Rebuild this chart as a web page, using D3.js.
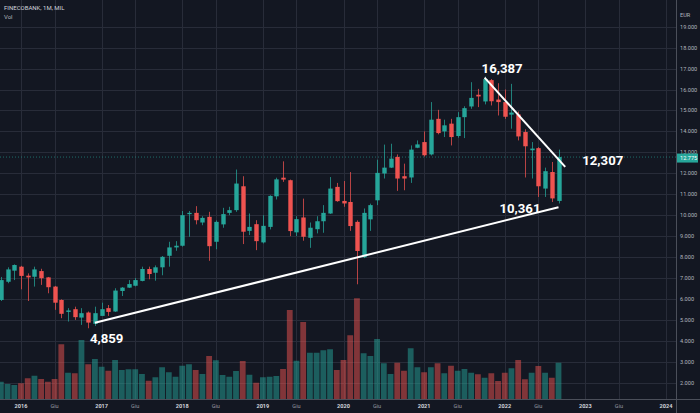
<!DOCTYPE html>
<html><head><meta charset="utf-8">
<script src="https://cdn.jsdelivr.net/npm/d3@7"></script>
<style>html,body{margin:0;padding:0;background:#131722;overflow:hidden}</style>
</head><body><svg id="c" width="700" height="413"></svg>
<script>
const months = ["2015-10","2015-11","2015-12",
"2016-01","2016-02","2016-03","2016-04","2016-05","2016-06","2016-07","2016-08","2016-09","2016-10","2016-11","2016-12",
"2017-01","2017-02","2017-03","2017-04","2017-05","2017-06","2017-07","2017-08","2017-09","2017-10","2017-11","2017-12",
"2018-01","2018-02","2018-03","2018-04","2018-05","2018-06","2018-07","2018-08","2018-09","2018-10","2018-11","2018-12",
"2019-01","2019-02","2019-03","2019-04","2019-05","2019-06","2019-07","2019-08","2019-09","2019-10","2019-11","2019-12",
"2020-01","2020-02","2020-03","2020-04","2020-05","2020-06","2020-07","2020-08","2020-09","2020-10","2020-11","2020-12",
"2021-01","2021-02","2021-03","2021-04","2021-05","2021-06","2021-07","2021-08","2021-09","2021-10","2021-11","2021-12",
"2022-01","2022-02","2022-03","2022-04","2022-05","2022-06","2022-07","2022-08","2022-09"];
const open  = [5.95,6.82,7.35,7.54,7.11,7.06,7.33,7.03,6.59,5.95,5.38,5.51,5.11,5.35,4.81,5.19,5.56,5.40,6.38,6.54,6.63,6.86,7.43,7.25,7.51,8.06,8.46,8.54,10.05,10.11,9.65,9.92,8.73,9.56,10.11,10.24,11.38,9.25,9.57,8.70,9.44,10.90,11.79,11.67,9.18,9.89,8.92,9.33,9.71,10.08,11.35,10.68,10.63,9.68,7.99,9.80,10.71,11.99,12.27,12.78,11.86,11.80,13.22,13.49,12.90,14.60,14.00,14.37,13.78,14.68,15.19,15.75,15.43,16.45,15.52,15.40,14.80,14.81,13.97,13.10,13.20,11.27,12.06,10.68];
const high  = [7.05,7.51,7.65,7.58,7.22,7.54,7.44,7.05,6.62,5.98,5.56,5.63,5.56,5.40,5.63,5.82,5.71,6.51,6.57,6.90,7.00,7.54,7.54,7.60,8.05,8.73,8.76,10.20,10.20,10.43,9.95,10.16,9.75,10.35,10.40,12.18,11.86,10.08,9.76,10.00,10.95,11.79,12.57,11.70,9.95,10.79,9.65,9.95,10.48,11.82,11.54,11.63,12.06,9.75,10.32,10.55,12.65,13.37,13.41,12.90,12.46,13.33,13.57,14.00,15.40,15.03,14.56,14.60,14.92,15.20,16.35,16.03,16.62,16.50,16.30,16.00,16.27,14.95,14.10,13.49,13.25,12.27,12.54,13.13];
const low   = [5.90,6.75,6.90,6.46,5.90,6.59,6.67,6.27,5.48,5.08,4.92,5.00,4.76,4.60,4.71,5.19,5.19,5.38,6.14,6.52,6.60,6.84,6.94,6.87,7.13,7.54,8.30,8.50,8.97,9.56,9.52,7.82,8.37,9.40,10.00,10.16,8.62,9.05,8.33,8.65,9.32,10.75,11.59,9.00,9.00,8.78,8.44,9.13,9.16,10.06,10.64,10.40,9.25,6.70,7.95,9.25,10.48,11.75,12.25,11.16,11.19,11.54,13.20,12.80,12.85,13.86,13.73,13.33,13.70,13.68,15.08,15.16,15.29,15.24,14.76,14.60,14.13,13.57,11.80,11.75,10.87,10.87,10.63,10.56];
const close = [6.90,7.41,7.62,7.10,7.03,7.41,6.99,6.56,5.82,5.29,5.45,5.13,5.32,4.87,5.32,5.51,5.38,6.40,6.54,6.71,6.90,7.43,7.19,7.51,8.01,8.46,8.54,10.00,10.11,9.76,9.87,8.52,9.68,10.05,10.24,11.51,9.21,9.44,8.76,9.49,10.92,11.71,11.70,9.24,9.81,8.97,9.40,9.71,10.11,11.27,10.67,10.56,9.48,8.29,10.11,10.48,12.02,12.27,12.70,11.75,11.75,13.13,13.38,12.86,14.56,13.92,14.29,13.73,14.68,15.11,15.60,15.67,16.50,15.44,15.40,14.70,14.90,13.76,13.29,13.18,11.38,12.10,10.80,12.775];
const volume = [6.9,6.0,5.6,6.3,8.3,9.3,8.0,6.9,8.0,21.9,10.5,10.3,23.6,13.9,16.0,12.9,11.3,15.6,11.6,11.9,11.9,10.0,7.3,8.7,12.7,10.7,8.9,13.3,13.9,11.6,10.0,17.2,15.5,9.6,8.9,11.2,15.2,9.7,6.5,8.7,8.9,9.2,12.0,35.6,15.3,30.8,18.5,18.5,19.5,19.9,11.6,15.6,25.5,40.3,18.3,17.2,24.0,14.3,10.0,14.5,11.3,20.3,12.7,10.7,12.7,14.3,10.3,13.3,11.3,12.0,10.5,9.9,8.5,10.3,7.2,10.5,12.3,15.6,7.9,10.5,13.2,10.5,8.5,14.5];
const priceTicks = [2,3,4,5,6,7,8,9,10,11,12,13,14,15,16,17,18,19];
const timeTickMonths = ["2016-01","2016-06","2017-01","2017-06","2018-01","2018-06","2019-01","2019-06","2020-01","2020-06","2021-01","2021-06","2022-01","2022-06","2023-01","2023-06","2024-01"];
const timeTickLabels = ["2016","Giu","2017","Giu","2018","Giu","2019","Giu","2020","Giu","2021","Giu","2022","Giu","2023","Giu","2024"];
const trendMonths = [["2016-12","2022-09"],["2021-10","2022-10"]];
const trendPrices = [[4.86,10.38],[16.57,12.307]];
const annotationText = ["4,859","10,361","16,387","12,307"];
const annotationMonth = ["2016-12","2022-09","2021-10","2022-10"];
const annotationPrice = [4.86,10.38,16.57,12.307];
const lastPrice = 12.775;

const W=700,H=413,PR=676,PB=399;
const svg=d3.select("#c");
const mnum=s=>{const [yy,mm]=s.split("-").map(Number);return (yy-2016)*12+(mm-1);};
const x=d3.scaleLinear().domain([0,96]).range([21,666]);
const y=d3.scaleLinear().domain([2,19]).range([382.7,26.7]);
const yv=d3.scaleLinear().domain([0,40]).range([PB,299]);
const UP="#26a69a",DN="#ef5350";

svg.append("rect").attr("width",W).attr("height",H).attr("fill","#131722");
svg.append("defs").append("clipPath").attr("id","pc").append("rect").attr("width",PR).attr("height",PB);
const g=svg.append("g").attr("clip-path","url(#pc)");

// grid
g.selectAll(".hg").data(priceTicks).join("line").attr("x1",0).attr("x2",PR)
 .attr("y1",d=>Math.round(y(d))+0.5).attr("y2",d=>Math.round(y(d))+0.5).attr("stroke","#282c39").attr("stroke-width",1);
g.selectAll(".vg").data(timeTickMonths).join("line").attr("y1",0).attr("y2",PB)
 .attr("x1",d=>Math.round(x(mnum(d)))+0.5).attr("x2",d=>Math.round(x(mnum(d)))+0.5).attr("stroke","#282c39").attr("stroke-width",1);

const data=months.map((m,i)=>({m:mnum(m),o:open[i],h:high[i],l:low[i],c:close[i],v:volume[i]}));

// volume
g.selectAll(".vol").data(data).join("rect")
 .attr("x",d=>x(d.m)-2.9).attr("width",5.8)
 .attr("y",d=>yv(d.v)).attr("height",d=>PB-yv(d.v))
 .attr("fill",d=>d.c>=d.o?UP:DN).attr("fill-opacity",0.5);

// last price dotted line
g.append("line").attr("x1",0).attr("x2",PR).attr("y1",y(lastPrice)).attr("y2",y(lastPrice))
 .attr("stroke",UP).attr("stroke-width",1).attr("stroke-dasharray","1,2").attr("opacity",0.6);

// candles
g.selectAll(".wick").data(data).join("line")
 .attr("x1",d=>Math.round(x(d.m))+0.5).attr("x2",d=>Math.round(x(d.m))+0.5)
 .attr("y1",d=>y(d.h)).attr("y2",d=>y(d.l))
 .attr("stroke",d=>d.c>=d.o?UP:DN).attr("stroke-width",1).attr("stroke-opacity",0.75);
g.selectAll(".body").data(data).join("rect")
 .attr("x",d=>Math.round(x(d.m))+0.5-2.2).attr("width",4.4)
 .attr("y",d=>y(Math.max(d.o,d.c))).attr("height",d=>Math.max(1,Math.abs(y(d.o)-y(d.c))))
 .attr("fill",d=>d.c>=d.o?UP:DN);

// trendlines
trendMonths.forEach((tm,i)=>{
  g.append("line").attr("x1",x(mnum(tm[0]))).attr("y1",y(trendPrices[i][0]))
   .attr("x2",x(mnum(tm[1]))).attr("y2",y(trendPrices[i][1]))
   .attr("stroke","#ffffff").attr("stroke-width",2);
});

// annotations
const annOff=[[-5,20,"start"],[-18,6,"end"],[-3,-5,"start"],[17,-2,"start"]];
annotationText.forEach((t,i)=>{
  g.append("text").attr("x",x(mnum(annotationMonth[i]))+annOff[i][0]).attr("y",y(annotationPrice[i])+annOff[i][1])
   .attr("text-anchor",annOff[i][2]).attr("fill","#ffffff").attr("font-family","Roboto, 'Open Sans', sans-serif")
   .attr("font-weight","bold").attr("font-size",13.2).text(t);
});

// axes borders
svg.append("line").attr("x1",PR+0.5).attr("x2",PR+0.5).attr("y1",0).attr("y2",H).attr("stroke","#4b4f5a");
svg.append("line").attr("x1",0).attr("x2",W).attr("y1",PB+0.5).attr("y2",PB+0.5).attr("stroke","#4b4f5a");

// price axis labels
svg.selectAll(".pl").data(priceTicks).join("text").attr("x",680).attr("y",d=>y(d)+2)
 .attr("fill","#b2b5be").attr("font-family","Roboto, sans-serif").attr("font-size",5.6)
 .text(d=>d.toFixed(3));
svg.append("text").attr("x",680).attr("y",17).attr("fill","#b2b5be").attr("font-family","Roboto, sans-serif").attr("font-size",5.6).text("EUR");

// last price tag
svg.append("rect").attr("x",PR+1).attr("y",y(lastPrice)-3.5).attr("width",21).attr("height",9).attr("fill",UP);
svg.append("text").attr("x",680).attr("y",y(lastPrice)+3).attr("fill","#ffffff").attr("font-family","Roboto, sans-serif").attr("font-size",5.6).text(lastPrice.toFixed(3));

// time axis labels
svg.append("g").selectAll("text").data(timeTickMonths).join("text")
 .attr("x",d=>x(mnum(d))).attr("y",408).attr("text-anchor","middle")
 .attr("fill",(d,i)=>timeTickLabels[i]==="Giu"?"#9598a1":"#d1d4dc")
 .attr("font-weight",(d,i)=>timeTickLabels[i]==="Giu"?"normal":"bold")
 .attr("font-family","Roboto, sans-serif").attr("font-size",5.6)
 .text((d,i)=>timeTickLabels[i]);

// title
svg.append("text").attr("x",4).attr("y",10).attr("fill","#d1d4dc").attr("font-family","Roboto, sans-serif").attr("font-size",6).text("FINECOBANK, 1M, MIL");
svg.append("text").attr("x",4).attr("y",18.5).attr("fill","#b2b5be").attr("font-family","Roboto, sans-serif").attr("font-size",6).text("Vol");
</script></body></html>
